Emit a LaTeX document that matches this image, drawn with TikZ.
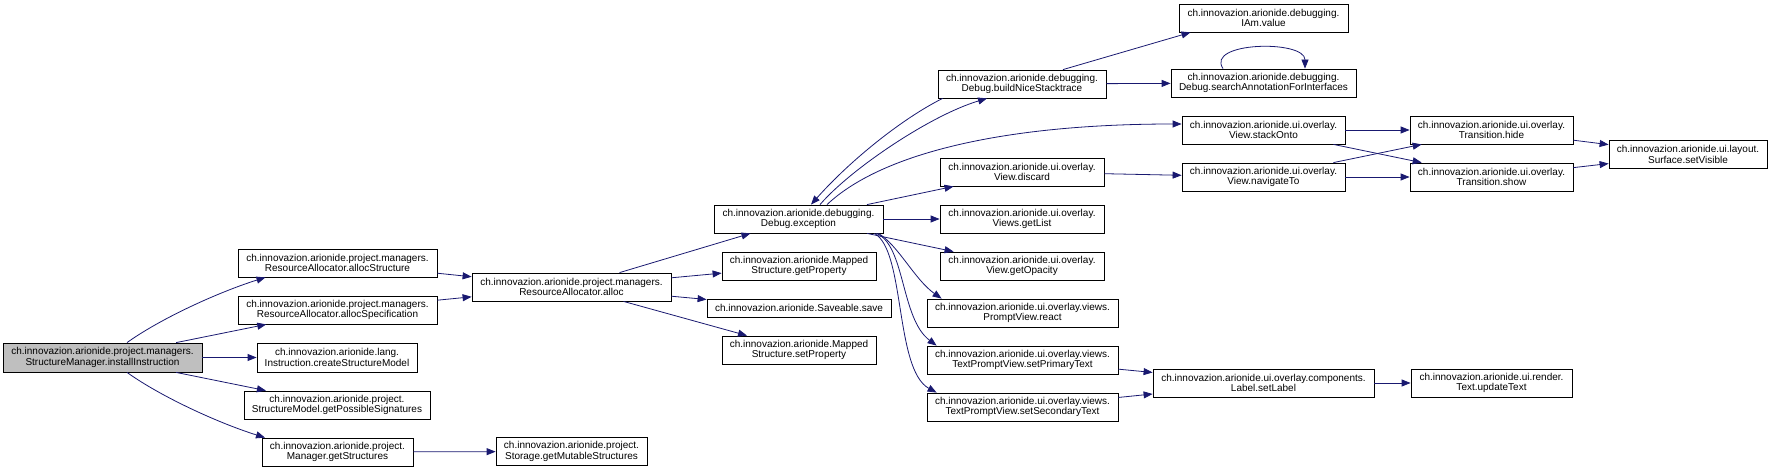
\documentclass[tikz,border=0pt]{standalone}
\usepackage{fontspec}
\setmainfont{Liberation Sans}
\usetikzlibrary{arrows.meta,calc}
\definecolor{edgeblue}{HTML}{191970}
\definecolor{grayfill}{HTML}{BFBFBF}
\begin{document}
\begin{tikzpicture}[x=1pt,y=-1pt,
  fn/.style={draw=black,line width=0.8pt,rectangle,inner sep=0pt,align=center,
     font=\fontsize{10}{10.5}\selectfont,fill=white},
  call/.style={draw=edgeblue,line width=0.8pt,-{Triangle[length=9pt,width=7pt]},edgeblue}]
\useasboundingbox (0,0) rectangle (1772,470);
% column 1
\node[fn,fill=grayfill,minimum width=199pt,minimum height=29pt] (install) at (102.5,357.5) {ch.innovazion.arionide.project.managers.\\StructureManager.installInstruction};
% column 2
\node[fn,minimum width=199pt,minimum height=28pt] (allocStr) at (337.5,263) {ch.innovazion.arionide.project.managers.\\ResourceAllocator.allocStructure};
\node[fn,minimum width=199pt,minimum height=28pt] (allocSpec) at (337.5,310) {ch.innovazion.arionide.project.managers.\\ResourceAllocator.allocSpecification};
\node[fn,minimum width=160pt,minimum height=29pt] (create) at (337,357.5) {ch.innovazion.arionide.lang.\\Instruction.createStructureModel};
\node[fn,minimum width=186pt,minimum height=28pt] (sigs) at (337,405) {ch.innovazion.arionide.project.\\StructureModel.getPossibleSignatures};
\node[fn,minimum width=151pt,minimum height=28pt] (getStr) at (337.5,452) {ch.innovazion.arionide.project.\\Manager.getStructures};
% column 3
\node[fn,minimum width=199pt,minimum height=28pt] (alloc) at (571.5,287) {ch.innovazion.arionide.project.managers.\\ResourceAllocator.alloc};
\node[fn,minimum width=151pt,minimum height=28pt] (storage) at (571.5,451.5) {ch.innovazion.arionide.project.\\Storage.getMutableStructures};
% column 4
\node[fn,minimum width=169pt,minimum height=28pt] (exc) at (798.5,219) {ch.innovazion.arionide.debugging.\\Debug.exception};
\node[fn,minimum width=154pt,minimum height=28pt] (getProp) at (799,266) {ch.innovazion.arionide.Mapped\\Structure.getProperty};
\node[fn,minimum width=184pt,minimum height=18pt] (save) at (799,308) {ch.innovazion.arionide.Saveable.save};
\node[fn,minimum width=154pt,minimum height=28pt] (setProp) at (799,350) {ch.innovazion.arionide.Mapped\\Structure.setProperty};
% column 5
\node[fn,minimum width=168pt,minimum height=28pt] (build) at (1022,84) {ch.innovazion.arionide.debugging.\\Debug.buildNiceStacktrace};
\node[fn,minimum width=164pt,minimum height=28pt] (discard) at (1022,172) {ch.innovazion.arionide.ui.overlay.\\View.discard};
\node[fn,minimum width=164pt,minimum height=28pt] (getList) at (1022,219) {ch.innovazion.arionide.ui.overlay.\\Views.getList};
\node[fn,minimum width=164pt,minimum height=28pt] (getOpac) at (1022,266) {ch.innovazion.arionide.ui.overlay.\\View.getOpacity};
\node[fn,minimum width=191pt,minimum height=28pt] (react) at (1022.5,313) {ch.innovazion.arionide.ui.overlay.views.\\PromptView.react};
\node[fn,minimum width=191pt,minimum height=28pt] (primary) at (1022.5,360) {ch.innovazion.arionide.ui.overlay.views.\\TextPromptView.setPrimaryText};
\node[fn,minimum width=191pt,minimum height=28pt] (secondary) at (1022.5,407) {ch.innovazion.arionide.ui.overlay.views.\\TextPromptView.setSecondaryText};
% column 6
\node[fn,minimum width=169pt,minimum height=28pt] (iam) at (1263.5,18) {ch.innovazion.arionide.debugging.\\IAm.value};
\node[fn,minimum width=185pt,minimum height=28pt] (search) at (1263.5,83) {ch.innovazion.arionide.debugging.\\Debug.searchAnnotationForInterfaces};
\node[fn,minimum width=163pt,minimum height=28pt] (stack) at (1263.5,130) {ch.innovazion.arionide.ui.overlay.\\View.stackOnto};
\node[fn,minimum width=163pt,minimum height=28pt] (navigate) at (1263.5,177) {ch.innovazion.arionide.ui.overlay.\\View.navigateTo};
\node[fn,minimum width=221pt,minimum height=28pt] (setLabel) at (1263.5,383) {ch.innovazion.arionide.ui.overlay.components.\\Label.setLabel};
% column 7
\node[fn,minimum width=163pt,minimum height=28pt] (hide) at (1491.5,130) {ch.innovazion.arionide.ui.overlay.\\Transition.hide};
\node[fn,minimum width=163pt,minimum height=28pt] (show) at (1491.5,177) {ch.innovazion.arionide.ui.overlay.\\Transition.show};
\node[fn,minimum width=161pt,minimum height=28pt] (update) at (1491.5,383) {ch.innovazion.arionide.ui.render.\\Text.updateText};
% column 8
\node[fn,minimum width=158pt,minimum height=28pt] (visible) at (1688,154.5) {ch.innovazion.arionide.ui.layout.\\Surface.setVisible};

% edges from install
\draw[call] ($(install.north)+(24.5,0)$) .. controls +(35,-25) and +(-45,14) .. ($(allocStr.south)+(-72,0)$);
\draw[call] (install) -- (allocSpec);
\draw[call] (install) -- (create);
\draw[call] (install) -- (sigs);
\draw[call] ($(install.south)+(24.5,0)$) .. controls +(35,25) and +(-45,-14) .. ($(getStr.north)+(-72.5,0)$);
\draw[call] (getStr) -- (storage);
% alloc
\draw[call] (allocStr) -- (alloc);
\draw[call] (allocSpec) -- (alloc);
\draw[call] (alloc) -- (exc);
\draw[call] (alloc) -- (getProp);
\draw[call] (alloc) -- (save);
\draw[call] (alloc) -- (setProp);
% exception <-> build
\draw[call] ($(build.south west)+(5,0)$) .. controls +(-40,20) and +(40,-45) .. ($(exc.north)+(12.5,0)$);
\draw[call] ($(exc.north)+(21.5,0)$) .. controls +(30,-35) and +(-57,17) .. ($(build.south)+(-35,0)$);
\draw[call] ($(exc.north)+(28.5,0)$) .. controls +(53,-50) and +(-182,0) .. ($(stack.west)+(0,-6)$);
\draw[call] (exc) -- (discard);
\draw[call] (exc) -- (getList);
\draw[call] (exc) -- (getOpac);
\draw[call] ($(exc.south east)+(-5,0)$) .. controls +(20,12) and +(-27,-19) .. ($(react.north west)+(15,0)$);
\draw[call] ($(exc.south east)+(-7,0)$) .. controls +(29,12) and +(-36,-27) .. ($(primary.north west)+(10,0)$);
\draw[call] ($(exc.south east)+(-9,0)$) .. controls +(31,17) and +(-42,-23) .. ($(secondary.north west)+(10,0)$);
% build
\draw[call] ($(build.north)+(41,0)$) -- ($(iam.south)+(-73,0)$);
\draw[call] (build) -- (search);
\draw[call] ($(search.north)+(-40.5,0)$) .. controls +(-18,-27) and +(0,-29) .. ($(search.north)+(41.5,0)$);
% overlay
\draw[call] (discard) -- (navigate);
\draw[call] (stack) -- (hide);
\draw[call] (stack) -- (show);
\draw[call] (navigate) -- (hide);
\draw[call] (navigate) -- (show);
\draw[call] (hide) -- (visible);
\draw[call] (show) -- (visible);
\draw[call] (primary) -- (setLabel);
\draw[call] (secondary) -- (setLabel);
\draw[call] (setLabel) -- (update);
\end{tikzpicture}
\end{document}
